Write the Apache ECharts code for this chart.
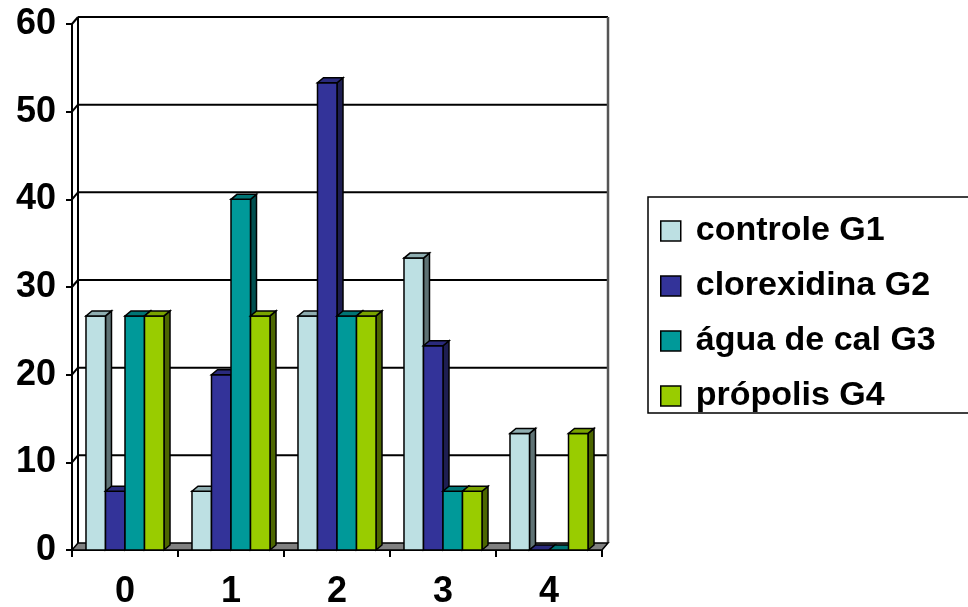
<!DOCTYPE html>
<html>
<head>
<meta charset="utf-8">
<title>Grupos</title>
<script src="https://cdn.jsdelivr.net/npm/echarts@6/dist/echarts.min.js"></script>
<style>
  html, body { margin: 0; padding: 0; background: #fff; }
  #chart { width: 968px; height: 607px; }
</style>
</head>
<body>
<div id="chart"></div>
<script>
// Categories (score) and the percentage for each group
const categories = ['0', '1', '2', '3', '4'];
const seriesNames = ['controle G1', 'clorexidina G2', 'água de cal G3', 'própolis G4'];
const controleG1 = [26.7, 6.7, 26.7, 33.3, 13.3];
const clorexidinaG2 = [6.7, 20, 53.3, 23.3, 0];
const aguaDeCalG3 = [26.7, 40, 26.7, 6.7, 0];
const propolisG4 = [26.7, 26.7, 26.7, 6.7, 13.3];
const yTicks = [0, 10, 20, 30, 40, 50, 60];

const seriesValues = [controleG1, clorexidinaG2, aguaDeCalG3, propolisG4];

// front / top / side face colours per group
const faceColors = [
  { front: '#BDE0E3', top: '#8FAEB1', side: '#5E7274' },
  { front: '#333399', top: '#2A2A7C', side: '#1E1E52' },
  { front: '#009999', top: '#007575', side: '#004F4F' },
  { front: '#99CC00', top: '#7AA300', side: '#4C6600' }
];

const FONT = '"Liberation Sans", Arial, sans-serif';
const BAR_RATIO = 0.184;     // bar width as a share of the category band
const BAR_DX = 6, BAR_DY = -5;   // bar depth
const WALL_DX = 6, WALL_DY = -7; // wall depth
const EDGE = { stroke: '#000', lineWidth: 1.5 };

function barRenderer(idx) {
  const c = faceColors[idx];
  return function (params, api) {
    const cat = api.value(0);
    const val = api.value(1);
    const base = api.coord([cat, 0]);
    const top = api.coord([cat, val]);
    const band = api.size([1, 0])[0];
    const w = band * BAR_RATIO;
    const x0 = base[0] - 2 * w + idx * w;
    const x1 = x0 + w;
    const yb = base[1], yt = top[1];
    const children = [];
    children.push({
      type: 'polygon',
      shape: { points: [[x1, yt], [x1 + BAR_DX, yt + BAR_DY], [x1 + BAR_DX, yb + BAR_DY], [x1, yb]] },
      style: Object.assign({ fill: c.side }, EDGE)
    });
    if (yb - yt > 0.5) {
      children.push({
        type: 'rect',
        shape: { x: x0, y: yt, width: w, height: yb - yt },
        style: Object.assign({ fill: c.front }, EDGE)
      });
    }
    children.push({
      type: 'polygon',
      shape: { points: [[x0, yt], [x1, yt], [x1 + BAR_DX, yt + BAR_DY], [x0 + BAR_DX, yt + BAR_DY]] },
      style: Object.assign({ fill: c.top }, EDGE)
    });
    return { type: 'group', children: children };
  };
}

// back wall, left wall and floor
function wallRenderer(params, api) {
  const cs = params.coordSys;
  const left = cs.x, right = cs.x + cs.width;
  const y0 = api.coord([0, yTicks[0]])[1];
  const yTop = api.coord([0, yTicks[yTicks.length - 1]])[1];
  return {
    type: 'group',
    children: [
      { type: 'line', shape: { x1: left + WALL_DX, y1: y0 + WALL_DY, x2: left + WALL_DX, y2: yTop + WALL_DY }, style: { stroke: '#000', lineWidth: 2 } },
      { type: 'line', shape: { x1: right + WALL_DX, y1: y0 + WALL_DY, x2: right + WALL_DX, y2: yTop + WALL_DY }, style: { stroke: '#555', lineWidth: 2.5 } },
      {
        type: 'polygon',
        shape: { points: [[left, y0], [right, y0], [right + WALL_DX, y0 + WALL_DY], [left + WALL_DX, y0 + WALL_DY]] },
        style: { fill: '#808080', stroke: '#000', lineWidth: 1.5 }
      }
    ]
  };
}

// gridlines on the back wall, joined to the axis across the left wall
function gridRenderer(params, api) {
  const cs = params.coordSys;
  const left = cs.x, right = cs.x + cs.width;
  const y = api.coord([0, api.value(1)])[1];
  return {
    type: 'group',
    children: [
      { type: 'line', shape: { x1: left, y1: y, x2: left + WALL_DX, y2: y + WALL_DY }, style: { stroke: '#000', lineWidth: 2 } },
      { type: 'line', shape: { x1: left + WALL_DX, y1: y + WALL_DY, x2: right + WALL_DX, y2: y + WALL_DY }, style: { stroke: '#000', lineWidth: 2 } }
    ]
  };
}

const series = [
  {
    type: 'custom', name: 'grid', renderItem: gridRenderer, clip: false, silent: true, z: 1,
    data: yTicks.slice(1).map(v => [0, v])
  },
  {
    type: 'custom', name: 'wall', renderItem: wallRenderer, clip: false, silent: true, z: 1,
    data: [[0, 0]]
  }
];
seriesValues.forEach((vals, i) => {
  series.push({
    type: 'custom',
    name: seriesNames[i],
    renderItem: barRenderer(i),
    clip: false,
    z: 3,
    itemStyle: { color: faceColors[i].front },
    data: vals.map((v, k) => [k, v])
  });
});

const chart = echarts.init(document.getElementById('chart'), null, { renderer: 'canvas' });
chart.setOption({
  animation: false,
  backgroundColor: '#fff',
  grid: { left: 72, top: 24, width: 530, height: 526, outerBoundsMode: 'none', containLabel: false },
  xAxis: {
    type: 'category',
    data: categories,
    boundaryGap: true,
    axisLine: { show: true, lineStyle: { color: '#000', width: 2 } },
    axisTick: { show: true, length: 7, lineStyle: { color: '#000', width: 2 } },
    axisLabel: { margin: 24, color: '#000', fontFamily: FONT, fontWeight: 'bold', fontSize: 36 },
    splitLine: { show: false }
  },
  yAxis: {
    type: 'value',
    min: 0, max: 60, interval: 10,
    axisLine: { show: true, lineStyle: { color: '#000', width: 2 } },
    axisTick: { show: true, length: 6, lineStyle: { color: '#000', width: 2 } },
    axisLabel: { margin: 16, color: '#000', fontFamily: FONT, fontWeight: 'bold', fontSize: 36 },
    splitLine: { show: false }
  },
  legend: {
    data: seriesNames,
    orient: 'vertical',
    left: 648,
    top: 197,
    padding: [17, 60, 0, 12],
    itemWidth: 20,
    itemHeight: 20,
    itemGap: 21,
    icon: 'rect',
    borderColor: '#000',
    borderWidth: 1.5,
    itemStyle: { borderColor: '#000', borderWidth: 1.5 },
    textStyle: { color: '#000', fontFamily: FONT, fontWeight: 'bold', fontSize: 34, lineHeight: 34, padding: [0, 0, 0, 10] }
  },
  series: series
});
</script>
</body>
</html>
